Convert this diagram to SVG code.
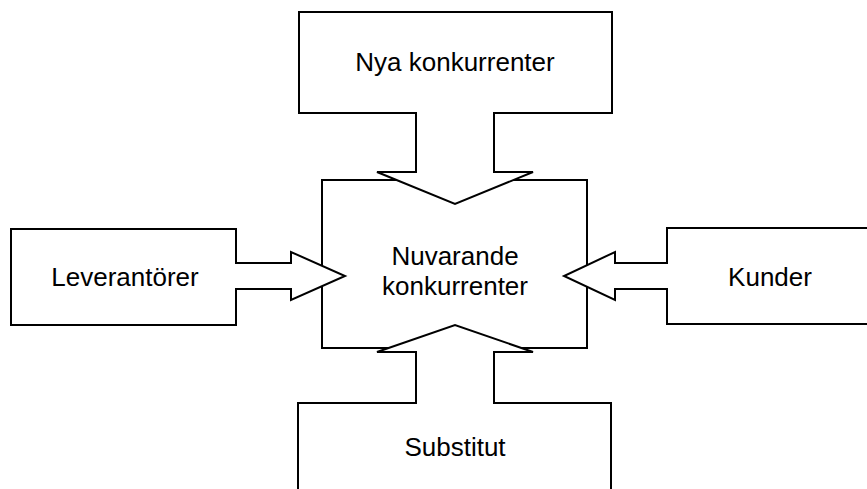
<svg xmlns="http://www.w3.org/2000/svg" width="867" height="489" viewBox="0 0 867 489">
<style>
.s{fill:#fff;stroke:#000;stroke-width:2;stroke-linejoin:miter}
.t{font-family:"Liberation Sans",Arial,sans-serif;font-size:26px;fill:#000;text-anchor:middle}
</style>
<rect width="867" height="489" fill="#fff"/>
<g id="nuvarande">
<rect class="s" x="322" y="180" width="265" height="168"/>
<text class="t" x="455" y="265">Nuvarande</text>
<text class="t" x="455" y="295">konkurrenter</text>
</g>
<g id="connectors">
</g>
<g id="nya">
<polygon class="s" points="299,12 612,12 612,113 494,113 494,172 533,172 455,204 377,172 416,172 416,113 299,113"/>
<text class="t" x="455" y="71">Nya konkurrenter</text>
</g>
<g id="leverantorer">
<polygon class="s" points="11,229 236,229 236,263 291,263 291,252 345,276 291,300 291,289 236,289 236,325 11,325"/>
<text class="t" x="125" y="286">Leverantörer</text>
</g>
<g id="kunder">
<polygon class="s" points="880,228 667,228 667,263 615,263 615,252 564,276 615,300 615,289 667,289 667,324 880,324"/>
<text class="t" x="770" y="286">Kunder</text>
</g>
<g id="substitut">
<polygon class="s" points="298,500 298,403 416,403 416,352 377,352 455,325 533,352 494,352 494,403 611,403 611,500"/>
<text class="t" x="455" y="456">Substitut</text>
</g>
</svg>
